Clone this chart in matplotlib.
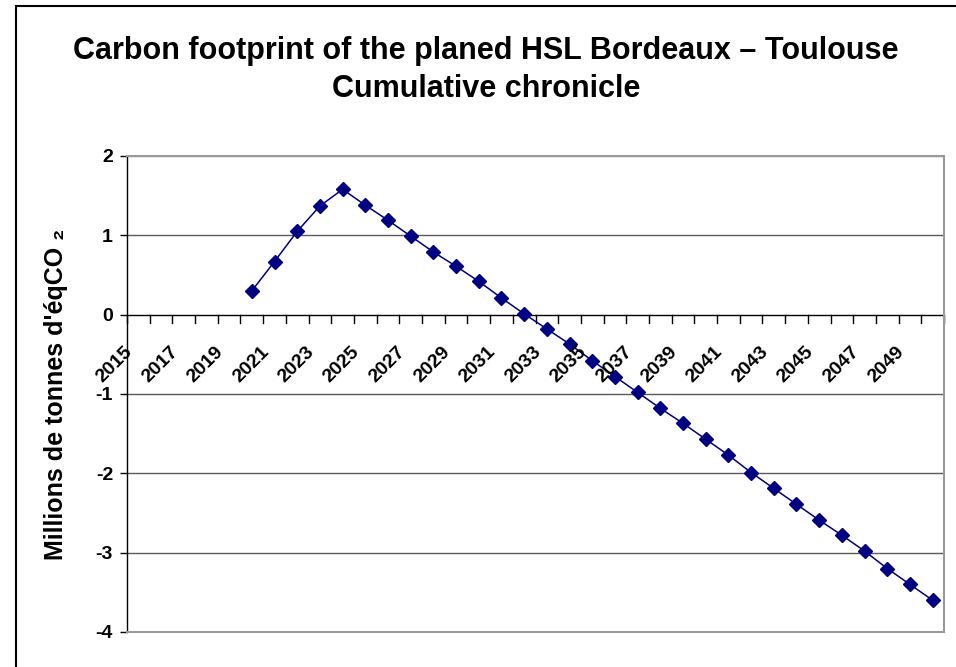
import numpy as np
import matplotlib.pyplot as plt
from matplotlib.patches import Rectangle

# Categories on the x axis (Excel style category axis)
years = list(range(2015, 2051))
# Cumulative carbon footprint, first value in 2020
data_years = list(range(2020, 2051))
values = [0.30, 0.67, 1.05, 1.37, 1.58, 1.38, 1.19, 0.99, 0.79, 0.61,
          0.42, 0.21, 0.01, -0.18, -0.37, -0.58, -0.78, -0.98, -1.18, -1.37,
          -1.57, -1.77, -1.99, -2.19, -2.39, -2.59, -2.78, -2.98, -3.20, -3.40,
          -3.60]
yticks = [-4, -3, -2, -1, 0, 1, 2]

plt.rcParams['font.family'] = ['Liberation Sans', 'DejaVu Sans']

fig = plt.figure(figsize=(9.56, 6.67), dpi=100)
ax = fig.add_axes([127/956, 1-632/667, (944-127)/956, (632-156)/667])

# chart frame (right and bottom edges fall outside the picture)
fig.patches.append(Rectangle((16/956, -0.1), 1.0, 1.1 - 6/667,
                             transform=fig.transFigure, fill=False,
                             edgecolor='black', linewidth=1.5))

x = [years.index(y) + 0.5 for y in data_years]
ax.plot(x, values, color='#000080', linewidth=1.1, marker='D',
        markersize=6.8, markerfacecolor='#000080', markeredgecolor='#000080',
        zorder=3)

ax.set_xlim(0, len(years))
ax.set_ylim(-4, 2)
ax.set_yticks(yticks)
ax.set_yticklabels([str(v) for v in yticks], fontsize=14, fontweight='bold')
ax.tick_params(axis='y', length=5, width=1, direction='out', pad=5)
ax.set_xticks([])

for v in yticks:
    if v not in (0, -4, 2):
        ax.axhline(v, color='#5a5a5a', linewidth=1, zorder=1)
ax.axhline(2, color='#8a8a8a', linewidth=1, zorder=1)

# x axis at zero with tick marks between categories
ax.axhline(0, color='black', linewidth=1, zorder=2)
for i in range(len(years) + 1):
    ax.plot([i, i], [0, -0.1], color='black', linewidth=1, zorder=2,
            clip_on=False)

for i, y in enumerate(years):
    if (y - 2015) % 2 == 0:
        ax.text(i - 0.13, -0.36, str(y), rotation=45, ha='right', va='top',
                rotation_mode='anchor', fontsize=14, fontweight='bold')

for side in ('top', 'right', 'bottom'):
    ax.spines[side].set_color('#9a9a9a')
    ax.spines[side].set_linewidth(1.5)
ax.spines['left'].set_color('black')
ax.spines['left'].set_linewidth(1)

ax.set_ylabel("Millions de tonnes d'éqCO ₂", fontsize=18, fontweight='bold')
ax.yaxis.set_label_coords((68-127)/817, 0.5)

fig.text(486/956, 1 - 59/667, 'Carbon footprint of the planed HSL Bordeaux \u2013 Toulouse',
         ha='center', va='baseline', fontsize=22, fontweight='bold')
fig.text(486/956, 1 - 97/667, 'Cumulative chronicle',
         ha='center', va='baseline', fontsize=22, fontweight='bold')

fig.savefig('out.png', dpi=100)
